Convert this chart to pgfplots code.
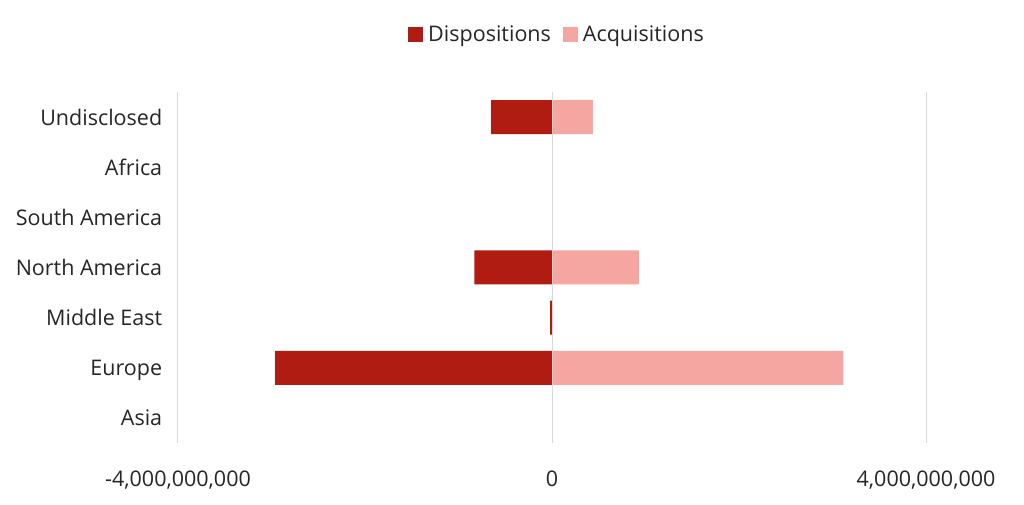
\documentclass[border=0pt]{standalone}
\usepackage{pgfplots}
\pgfplotsset{compat=1.18}
\usepackage{fontspec}
\setmainfont{Open Sans}
\definecolor{disp}{RGB}{176,28,18}
\definecolor{acq}{RGB}{245,166,161}
\definecolor{gridc}{RGB}{217,217,217}
\definecolor{txt}{RGB}{38,38,38}
\begin{document}
\begin{tikzpicture}
\useasboundingbox (-178pt,-62pt) rectangle (846pt,443pt);
\begin{axis}[
  at={(0pt,0pt)}, anchor=south west,
  scale only axis, width=748pt, height=351pt,
  xmin=-4e9, xmax=4e9, ymin=-0.5, ymax=6.5,
  axis line style={draw=none},
  scaled x ticks=false,
  xtick={-4e9,0,4e9},
  xticklabels={{-4,000,000,000},{0},{4,000,000,000}},
  xmajorgrids, major grid style={gridc, line width=1pt},
  axis on top,
  ytick={0,1,2,3,4,5,6},
  yticklabels={Asia,Europe,Middle East,North America,South America,Africa,Undisclosed},
  typeset ticklabels with strut,
  tick style={draw=none},
  font=\fontsize{21.5}{25}\selectfont\color{txt},
  xticklabel style={yshift=-22pt},
  yticklabel style={xshift=-8pt, yshift=-3pt},
  xbar, bar width=34pt, bar shift=0pt,
  legend style={at={(0.5,1)}, anchor=south, yshift=45pt, xshift=6.5pt, draw=none, legend columns=2,
    /tikz/every even column/.append style={column sep=7pt},
    nodes={inner xsep=5pt}},
  legend image code/.code={\fill[#1] (0pt,-7.5pt) rectangle (15pt,7.5pt);},
]
\addplot[fill=disp, draw=none] coordinates {
  (-2.96e9,1) (-0.02e9,2) (-0.83e9,3) (-0.65e9,6)};
\addlegendentry{Dispositions}
\addplot[fill=acq, draw=none] coordinates {
  (3.115e9,1) (0.93e9,3) (0.44e9,6)};
\addlegendentry{Acquisitions}
\end{axis}
\end{tikzpicture}
\end{document}
